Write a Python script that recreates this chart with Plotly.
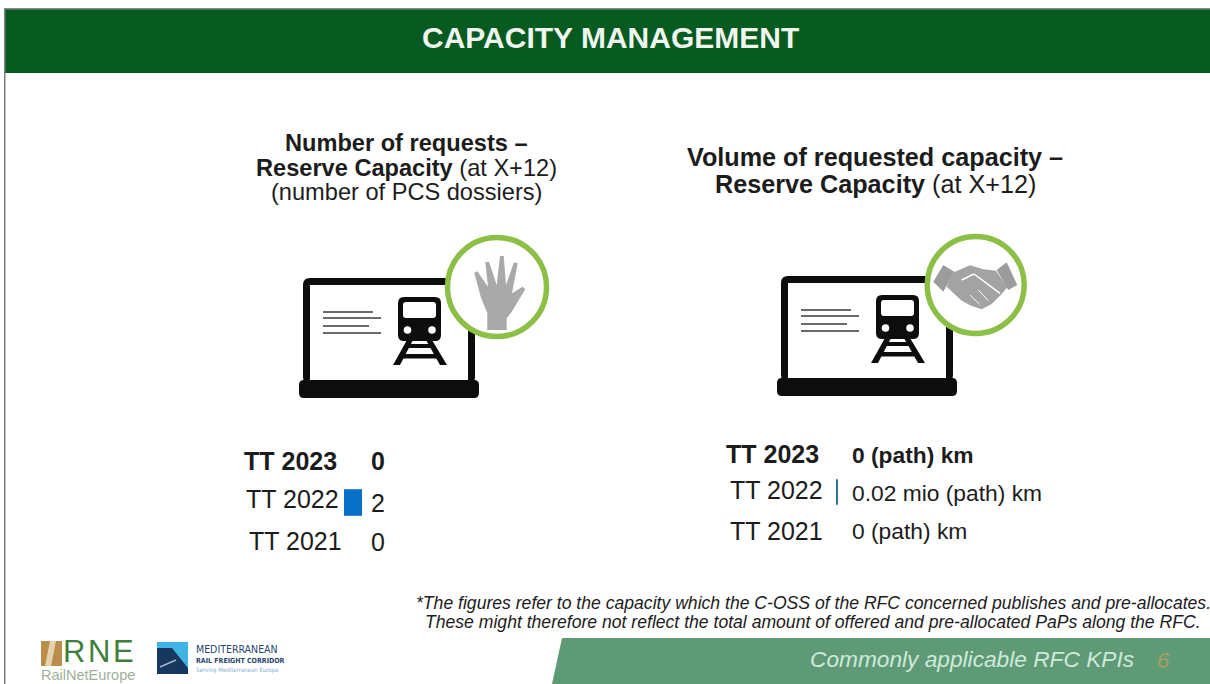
import plotly.graph_objects as go

# ---- data ----
periods = ["TT 2021", "TT 2022", "TT 2023"]
requests = [0, 2, 0]
request_labels = ["0", "2", "0"]
volume_mio_km = [0, 0.02, 0]
volume_labels = ["0 (path) km", "0.02 mio (path) km", "0 (path) km"]
title = "CAPACITY MANAGEMENT"
footer = "Commonly applicable RFC KPIs"
page_no = "6"

W, H = 1210, 684
FONT = "Liberation Sans"
DARK = "#1c1c1c"
GREEN_RING = "#8cbf45"
NONE = "rgba(0,0,0,0)"

fig = go.Figure()


def dx(a, b):
    return [a / W, b / W]


def dy(top, bottom):
    return [1 - bottom / H, 1 - top / H]


# Two bar panels, on their own scales (9 px per request, 75 px per mio km)
fig.add_trace(go.Bar(y=periods, x=requests, orientation="h",
                     marker=dict(color=["#0670c8" if v else NONE for v in requests], line_width=0),
                     xaxis="x", yaxis="y", hoverinfo="skip", showlegend=False))
fig.add_trace(go.Bar(y=periods, x=volume_mio_km, orientation="h",
                     marker=dict(color=["#2f6f94" if v else NONE for v in volume_mio_km], line_width=0),
                     xaxis="x2", yaxis="y2", hoverinfo="skip", showlegend=False))
# Pixel overlay carrying the page artwork
fig.add_trace(go.Scatter(x=[0], y=[0], mode="none", xaxis="x3", yaxis="y3",
                         hoverinfo="skip", showlegend=False))

hidden = dict(visible=False, showgrid=False, zeroline=False, fixedrange=True)
layout = dict(
    width=W, height=H, margin=dict(l=0, r=0, t=0, b=0), autosize=False,
    paper_bgcolor="white", plot_bgcolor="rgba(0,0,0,0)", bargap=0.34,
    xaxis=dict(hidden, domain=dx(344, 434), range=[0, 10], anchor="y"),
    yaxis=dict(hidden, domain=dy(442, 563), anchor="x", type="category",
               categoryorder="array", categoryarray=periods),
    xaxis2=dict(hidden, domain=dx(836, 911), range=[0, 1], anchor="y2"),
    yaxis2=dict(hidden, domain=dy(434, 550), anchor="x2", type="category",
                categoryorder="array", categoryarray=periods),
    xaxis3=dict(hidden, domain=[0, 1], range=[0, W], anchor="y3"),
    yaxis3=dict(hidden, domain=[0, 1], range=[H, 0], anchor="x3"),
)
fig.update_layout(**layout)

shapes = []


def rect(x0, y0, x1, y1, color, layer="below"):
    shapes.append(dict(type="rect", xref="x3", yref="y3", x0=x0, y0=y0, x1=x1, y1=y1,
                       fillcolor=color, line_width=0, layer=layer))


def poly(pts, color, line=None, width=0):
    path = "M" + " L".join(f"{x:.1f},{y:.1f}" for x, y in pts) + " Z"
    shapes.append(dict(type="path", xref="x3", yref="y3", path=path, fillcolor=color,
                       line=dict(color=line or color, width=width), layer="below"))


def segment(x0, y0, x1, y1, color, width):
    shapes.append(dict(type="line", xref="x3", yref="y3", x0=x0, y0=y0, x1=x1, y1=y1,
                       line=dict(color=color, width=width), layer="below"))


def circle(cx, cy, r, fill, line=None, width=0):
    shapes.append(dict(type="circle", xref="x3", yref="y3", x0=cx - r, y0=cy - r,
                       x1=cx + r, y1=cy + r, fillcolor=fill,
                       line=dict(color=line or fill, width=width), layer="below"))


def rounded(x0, y0, x1, y1, r, color):
    path = (f"M{x0+r},{y0} L{x1-r},{y0} Q{x1},{y0} {x1},{y0+r} L{x1},{y1-r} Q{x1},{y1} {x1-r},{y1} "
            f"L{x0+r},{y1} Q{x0},{y1} {x0},{y1-r} L{x0},{y0+r} Q{x0},{y0} {x0+r},{y0} Z")
    shapes.append(dict(type="path", xref="x3", yref="y3", path=path, fillcolor=color,
                       line_width=0, layer="below"))


def laptop(ox, oy):
    rounded(ox + 303, oy + 278, ox + 475, oy + 384, 7, "#0d0d0d")
    rect(ox + 310, oy + 285, ox + 468, oy + 384, "white")
    rounded(ox + 299, oy + 380, ox + 479, oy + 398, 5, "#0d0d0d")
    for x1, y in [(373, 312), (381, 318), (369, 326), (381, 333)]:
        segment(ox + 323, oy + y, ox + x1, oy + y, "#6a6a6a", 2)
    # train
    rounded(ox + 398, oy + 297, ox + 441, oy + 341, 6, "#0d0d0d")
    rounded(ox + 403, oy + 302, ox + 436, oy + 318, 3, "white")
    circle(ox + 407.5, oy + 330, 3.8, "white")
    circle(ox + 432, oy + 330, 3.8, "white")
    poly([(ox + 407, oy + 340), (ox + 413, oy + 340), (ox + 400, oy + 365), (ox + 393, oy + 365)], "#0d0d0d")
    poly([(ox + 426, oy + 340), (ox + 432, oy + 340), (ox + 447, oy + 365), (ox + 440, oy + 365)], "#0d0d0d")
    rect(ox + 406, oy + 344, ox + 433, oy + 348, "#0d0d0d")
    rect(ox + 401, oy + 354, ox + 439, oy + 358.5, "#0d0d0d")


def zpts(pts, ox, oy):
    return [(ox + x / 3, oy + y / 3) for x, y in pts]


# header and frame
rect(5, 9, W, 73, "#075a20")
rect(4, 8, W, 9.5, "#8a8a8a")
rect(4, 8, 5.5, H, "#7d7d7d")

# left icon
laptop(0, 0)
circle(497, 287, 49.5, "white", GREEN_RING, 5.5)
poly(zpts([(592, 300), (592, 250), (572, 200), (553, 128), (562, 124), (594, 170), (586, 97),
           (597, 95), (620, 165), (630, 78), (641, 78), (648, 165), (672, 97), (683, 100),
           (666, 190), (698, 170), (706, 178), (665, 245), (650, 265), (650, 300)], 290, 230),
     "#a9a9a9")

# right icon
laptop(478, -2)
circle(975.7, 285, 48.5, "white", GREEN_RING, 5.5)
poly(zpts([(490, 155), (520, 105), (553, 125), (520, 185)], 770, 230), "#9c9c9c")
poly(zpts([(680, 120), (710, 97), (742, 165), (715, 180)], 770, 230), "#9c9c9c")
poly(zpts([(548, 128), (600, 106), (640, 118), (678, 122), (712, 172), (695, 192), (665, 222),
           (635, 238), (605, 228), (575, 212), (530, 170)], 770, 230), "#a3a3a3")
segment(770 + 575 / 3, 230 + 150 / 3, 770 + 612 / 3, 230 + 132 / 3, "white", 1.5)
segment(770 + 612 / 3, 230 + 132 / 3, 770 + 690 / 3, 230 + 190 / 3, "white", 1.5)
segment(770 + 600 / 3, 230 + 195 / 3, 770 + 628 / 3, 230 + 222 / 3, "white", 1)
segment(770 + 625 / 3, 230 + 180 / 3, 770 + 655 / 3, 230 + 212 / 3, "white", 1)

# footer band
poly([(562, 638), (W, 638), (W, H), (552, H)], "#5f9a77")

# logos
poly([(41, 641), (62, 641), (62, 666), (41, 666)], "#b98d4a")
poly([(50, 641), (56, 641), (51, 666), (45, 666)], "#e4d3ae")
rect(157, 642, 188, 674, "#3fb4e4")
poly([(157, 648), (172, 648), (188, 668), (188, 674), (157, 674)], "#17375e")
segment(160, 667, 176, 660, "#9fb6cc", 1.5)

fig.update_layout(shapes=shapes)

annotations = []


def text(x, y, s, size, color=DARK, anchor="center", bold=False, italic=False, family=FONT):
    if bold:
        s = f"<b>{s}</b>"
    if italic:
        s = f"<i>{s}</i>"
    annotations.append(dict(xref="x3", yref="y3", x=x, y=y, text=s, showarrow=False,
                            xanchor=anchor, yanchor="middle", align=anchor,
                            font=dict(family=family, size=size, color=color),
                            borderpad=0, borderwidth=0))


text(610, 37, title, 30, color="#f0f5ef", bold=True)

text(406, 143, "Number of requests –", 23.6, bold=True)
text(406, 167.5, "<b>Reserve Capacity</b> (at X+12)", 23.6)
text(406, 192, "(number of PCS dossiers)", 23.6)
text(875, 157, "Volume of requested capacity –", 25.2, bold=True)
text(875, 184, "<b>Reserve Capacity</b> (at X+12)", 25.2)

left_x = [249, 246, 244]
left_y = [541, 499, 461]
val_y = [542, 503, 461]
for i, p in enumerate(periods):
    b = i == 2
    text(left_x[i], left_y[i], p, 25, anchor="left", bold=b)
    text(378, val_y[i], request_labels[i], 25, bold=b)

right_x = [730, 730, 726]
right_y = [531, 490, 454]
rval_y = [531, 493, 455]
for i, p in enumerate(periods):
    b = i == 2
    text(right_x[i], right_y[i], p, 25, anchor="left", bold=b)
    text(852, rval_y[i], volume_labels[i], 22.8, anchor="left", bold=b)

text(813, 603, "*The figures refer to the capacity which the C-OSS of the RFC concerned publishes and pre-allocates.",
     17.6, italic=True)
text(813, 622, "These might therefore not reflect the total amount of offered and pre-allocated PaPs along the RFC.",
     17.6, italic=True)
text(972, 659, footer, 22.7, color="#cfe9da", italic=True)
text(1163, 660, page_no, 22, color="#a79f62", italic=True)

text(63, 651, "R\u200aN\u200aE", 31, color="#3f7f3c", anchor="left")
text(41, 675, "RailNetEurope", 14.5, color="#9fb09a", anchor="left")
NARROW = "DejaVu Sans Condensed, Liberation Sans"
text(196, 649, "MEDITERRANEAN", 10.5, color="#28466e", anchor="left", family=NARROW)
text(196, 661, "RAIL FREIGHT CORRIDOR", 7, color="#28466e", anchor="left", bold=True, family=NARROW)
text(196, 670, "Serving Mediterranean Europe", 6, color="#7fb4d6", anchor="left", family=NARROW)

fig.update_layout(annotations=annotations)

fig.write_html("out.html", config=dict(displayModeBar=False),
               post_script="document.body.style.margin='0';document.body.style.overflow='hidden';")
